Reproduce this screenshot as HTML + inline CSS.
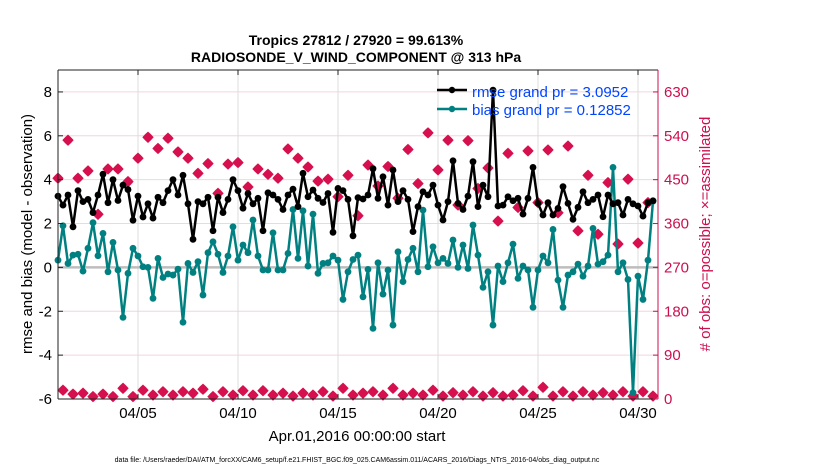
<!DOCTYPE html>
<html><head><meta charset="utf-8"><style>
html,body{margin:0;padding:0;background:#fff;}
svg{display:block;font-family:"Liberation Sans",sans-serif;}
</style></head><body>
<svg id="chart" width="830" height="470" viewBox="0 0 830 470">
<g id="grid"></g>
<g id="series"></g>
<g id="axes"></g>
<text x="356" y="45" text-anchor="middle" font-size="14" font-weight="bold">Tropics 27812 / 27920 = 99.613%</text>
<text x="356" y="62" text-anchor="middle" font-size="14" font-weight="bold">RADIOSONDE_V_WIND_COMPONENT @ 313 hPa</text>
<text x="357" y="441" text-anchor="middle" font-size="15">Apr.01,2016 00:00:00 start</text>
<text transform="translate(32,234) rotate(-90)" text-anchor="middle" font-size="15">rmse and bias (model - observation)</text>
<text transform="translate(710,234) rotate(-90)" text-anchor="middle" font-size="15" fill="#cc0f4f"># of obs: o=possible; ×=assimilated</text>
<text x="357" y="462" text-anchor="middle" font-size="7">data file: /Users/raeder/DAI/ATM_forcXX/CAM6_setup/f.e21.FHIST_BGC.f09_025.CAM6assim.011/ACARS_2016/Diags_NTrS_2016-04/obs_diag_output.nc</text>
<g>
 <line x1="437" y1="90" x2="467" y2="90" stroke="#000" stroke-width="2.5"/>
 <circle cx="452" cy="90" r="3.2" fill="#000"/>
 <text x="472" y="97" font-size="15" fill="#0044ff">rmse grand pr = 3.0952</text>
 <line x1="437" y1="109" x2="467" y2="109" stroke="#008080" stroke-width="2.5"/>
 <circle cx="452" cy="109" r="3.2" fill="#008080"/>
 <text x="472" y="115" font-size="15" fill="#0044ff">bias grand pr = 0.12852</text>
</g>
</svg>
<script>
const xTickLabels = ["04/05","04/10","04/15","04/20","04/25","04/30"];
const xTickDays = [4,9,14,19,24,29];
const yTicks = [8,6,4,2,0,-2,-4,-6];
const rTicks = [630,540,450,360,270,180,90,0];
const rmse = [3.25,2.84,3.3,1.85,3.5,3.0,3.1,2.5,3.3,4.25,2.95,4.0,3.05,3.75,3.55,2.15,3.25,2.3,2.9,2.25,3.2,2.95,3.5,4.0,3.3,4.2,2.9,1.28,3.0,2.9,
3.2,1.67,3.2,2.5,3.1,4.0,3.5,2.7,3.37,2.9,3.15,1.67,3.4,3.3,3.1,2.64,3.3,3.57,2.77,4.29,3.22,3.53,3.15,2.96,3.37,1.6,3.6,3.5,3.1,1.44,
3.18,3.12,3.3,4.5,3.15,4.13,2.84,4.44,3.0,3.5,3.1,1.63,2.77,3.45,3.3,3.75,2.84,2.16,3.0,4.86,2.92,2.64,3.25,4.82,2.77,3.75,3.22,8.08,2.8,2.84,
3.22,3.04,3.15,2.43,3.15,4.56,2.92,2.39,2.95,2.39,2.69,3.68,2.92,2.19,2.74,3.45,2.95,3.1,3.3,2.31,3.3,2.9,2.95,2.39,3.1,2.9,2.8,2.34,2.95,3.04];
const bias = [0.33,1.9,0.18,0.56,0.6,-0.17,0.87,2.04,0.53,1.55,-0.2,1.14,-0.12,-2.28,-0.27,0.87,0.52,0.03,0,-1.41,0.41,-0.46,-0.3,-0.35,-0.08,-2.5,0.18,-0.23,0.26,-1.26,
0.67,1.17,0.6,-0.23,0.52,1.85,0.33,1.02,0.67,2.16,0.52,-0.12,-0.12,1.58,-0.12,-0.12,0.64,2.64,0.41,2.58,0.06,2.43,-0.27,0.18,0.21,0.52,0.33,-1.46,-0.2,0.36,
0.56,-1.34,-0.09,-2.78,0.21,-1.22,-0.12,-2.63,0.71,-0.65,0.36,0.87,-0.2,2.61,0.03,0.94,0.21,0.41,0.18,1.25,0.0,1.02,-0.05,1.93,0.56,-0.91,-0.2,-2.63,0.06,-0.65,
0.21,1.06,-0.5,0.06,-0.12,-1.82,-0.12,0.52,0.21,1.73,-0.58,-1.82,-0.35,-0.2,0.15,-0.4,0.06,1.78,0.15,0.26,0.56,4.56,-0.2,0.21,-0.55,-5.71,-0.4,-1.46,0.33,3.02];
const obsMain = [453,531,453,468,379,472,472,446,494,537,514,535,507,494,463,483,422,482,485,435,472,461,453,513,494,476,447,451,415,459,
376,480,437,477,412,512,442,546,470,531,398,530,432,474,365,504,393,509,403,511,382,519,345,459,338,444,318,451,320,403];
const obsOff = [18,10,12,5,10,5,22,5,18,8,15,8,15,12,20,5,15,8,17,8,17,8,12,6,12,8,15,6,22,8,
12,15,8,22,8,12,8,18,6,13,8,15,6,13,6,8,17,6,24,6,15,6,15,8,13,8,15,6,15,6];

const NS="http://www.w3.org/2000/svg";
const X0=58,X1=658,Y0=70,Y1=399;
const xDay=d=>X0+(X1-X0)*d/30;
const xIdx=i=>xDay(i*0.25);
const yL=v=>Y1-(v+6)*(Y1-Y0)/15;
const yR=c=>Y1-c*(Y1-Y0)/675;
function mk(parent,tag,attrs){const e=document.createElementNS(NS,tag);for(const k in attrs)e.setAttribute(k,attrs[k]);parent.appendChild(e);return e;}
const grid=document.getElementById('grid'),ser=document.getElementById('series'),ax=document.getElementById('axes');
mk(grid,'rect',{x:X0,y:Y0,width:X1-X0,height:Y1-Y0,fill:'#fff'});
yTicks.forEach(v=>{const l=mk(grid,'line',{x1:X0,x2:X1,y1:yL(v),y2:yL(v),stroke:'#f0d6df','stroke-width':1});

});
xTickDays.forEach(d=>{const l=mk(grid,'line',{x1:xDay(d),x2:xDay(d),y1:Y0,y2:Y1,stroke:'#dcdcdc','stroke-width':1});

});
const zl=mk(grid,'line',{x1:X0,x2:X1,y1:yL(0),y2:yL(0),stroke:'#bdbdbd','stroke-width':2.5});


function star(g,x,y,name){const p=mk(g,'path',{d:`M${x} ${y-5}L${x+2.6} ${y-2.6}L${x+5} ${y}L${x+2.6} ${y+2.6}L${x} ${y+5}L${x-2.6} ${y+2.6}L${x-5} ${y}L${x-2.6} ${y-2.6}Z`,fill:'#d6104f',stroke:'#d6104f','stroke-width':1});

}
obsMain.forEach((c,k)=>star(ser,xIdx(2*k),yR(c),'obs-count-marker'));
obsOff.forEach((c,k)=>star(ser,xIdx(2*k+1),yR(c),'obs-count-offhour-marker'));
function line(arr,col,name){const pl=mk(ser,'polyline',{points:arr.map((v,i)=>xIdx(i)+','+yL(v)).join(' '),fill:'none',stroke:col,'stroke-width':2.5,'stroke-linejoin':'round'});


arr.forEach((v,i)=>{const c=mk(ser,'circle',{cx:xIdx(i),cy:yL(v),r:3.4,fill:col});

});}
line(bias,'#008080','bias');
line(rmse,'#000','rmse');
mk(ax,'line',{x1:X0,x2:X1,y1:Y0,y2:Y0,stroke:'#222','stroke-width':1});
mk(ax,'line',{x1:X0,x2:X1,y1:Y1,y2:Y1,stroke:'#222','stroke-width':1});
mk(ax,'line',{x1:X0,x2:X0,y1:Y0,y2:Y1,stroke:'#222','stroke-width':1});
mk(ax,'line',{x1:X1,x2:X1,y1:Y0,y2:Y1,stroke:'#cc0f4f','stroke-width':1});
yTicks.forEach(v=>{mk(ax,'line',{x1:X0,x2:X0+5,y1:yL(v),y2:yL(v),stroke:'#222'});
const t=mk(ax,'text',{x:X0-6,y:yL(v)+5,'text-anchor':'end','font-size':15});t.textContent=v;

});
rTicks.forEach(c=>{mk(ax,'line',{x1:X1-5,x2:X1,y1:yR(c),y2:yR(c),stroke:'#cc0f4f'});
const t=mk(ax,'text',{x:X1+6,y:yR(c)+5,'font-size':15,fill:'#cc0f4f'});t.textContent=c;

});
xTickDays.forEach((d,k)=>{mk(ax,'line',{x1:xDay(d),x2:xDay(d),y1:Y1-5,y2:Y1,stroke:'#222'});mk(ax,'line',{x1:xDay(d),x2:xDay(d),y1:Y0,y2:Y0+5,stroke:'#222'});
const t=mk(ax,'text',{x:xDay(d),y:Y1+19,'text-anchor':'middle','font-size':15});t.textContent=xTickLabels[k];

});
</script>
</body></html>
